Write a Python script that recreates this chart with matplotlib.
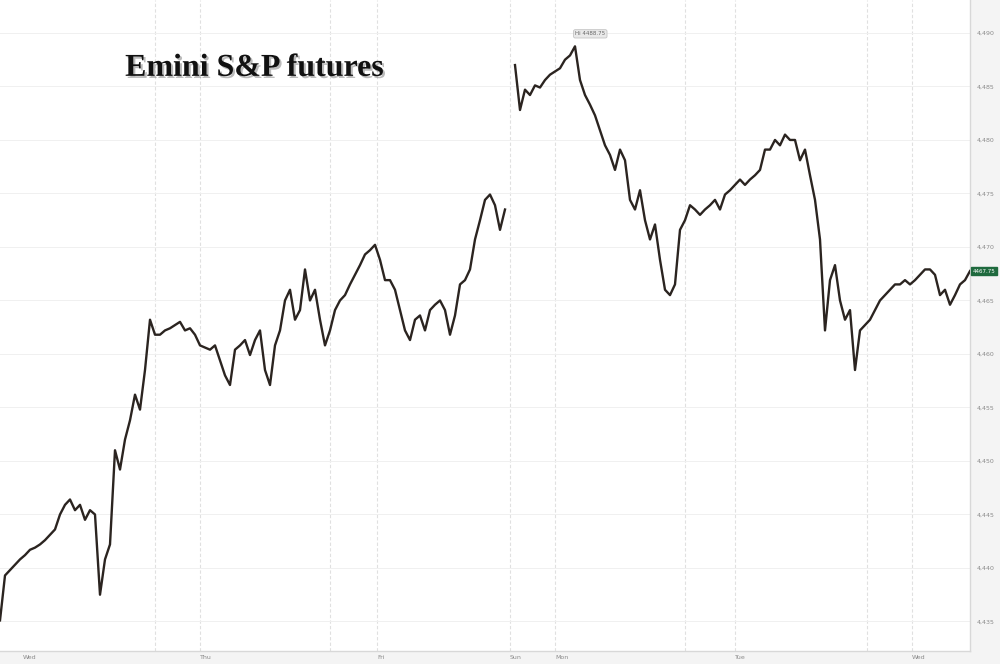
import matplotlib

matplotlib.use("Agg")
import matplotlib.pyplot as plt
import matplotlib.patheffects as pe
import numpy as np

# Emini S&P futures, one value per ~40 min bar (NaN = weekend break)
prices = [
    4435.1, 4439.3, 4439.8, 4440.3, 4440.8, 4441.2, 4441.7, 4441.9, 4442.2, 4442.6,
    4443.1, 4443.6, 4445.0, 4445.9, 4446.4, 4445.4, 4445.9, 4444.5, 4445.4, 4445.0,
    4437.5, 4440.8, 4442.2, 4451.0, 4449.2, 4452.0, 4453.8, 4456.2, 4454.8, 4458.5,
    4463.2, 4461.8, 4461.8, 4462.2, 4462.4, 4462.7, 4463.0, 4462.2, 4462.4, 4461.8,
    4460.8, 4460.6, 4460.4, 4460.8, 4459.4, 4458.0, 4457.1, 4460.4, 4460.8, 4461.3,
    4459.9, 4461.3, 4462.2, 4458.5, 4457.1, 4460.8, 4462.2, 4465.0, 4466.0, 4463.2,
    4464.1, 4467.9, 4465.0, 4466.0, 4463.2, 4460.8, 4462.2, 4464.1, 4465.0, 4465.5,
    4466.5, 4467.4, 4468.3, 4469.3, 4469.7, 4470.2, 4468.8, 4466.9, 4466.9, 4466.0,
    4464.1, 4462.2, 4461.3, 4463.2, 4463.6, 4462.2, 4464.1, 4464.6, 4465.0, 4464.1,
    4461.8, 4463.6, 4466.5, 4466.9, 4467.9, 4470.7, 4472.5, 4474.4, 4474.9, 4473.9,
    4471.6, 4473.5, np.nan, 4487.0, 4482.8, 4484.7, 4484.2, 4485.1, 4484.9, 4485.6,
    4486.1, 4486.4, 4486.7, 4487.5, 4487.9, 4488.75, 4485.6, 4484.2, 4483.3, 4482.3,
    4480.9, 4479.5, 4478.6, 4477.2, 4479.1, 4478.1, 4474.4, 4473.5, 4475.3, 4472.5,
    4470.7, 4472.1, 4468.8, 4466.0, 4465.5, 4466.5, 4471.6, 4472.5, 4473.9, 4473.5,
    4473.0, 4473.5, 4473.9, 4474.4, 4473.5, 4474.9, 4475.3, 4475.8, 4476.3, 4475.8,
    4476.3, 4476.7, 4477.2, 4479.1, 4479.1, 4480.0, 4479.5, 4480.5, 4480.0, 4480.0,
    4478.1, 4479.1, 4476.7, 4474.4, 4470.7, 4462.2, 4466.9, 4468.3, 4465.0, 4463.2,
    4464.1, 4458.5, 4462.2, 4462.7, 4463.2, 4464.1, 4465.0, 4465.5, 4466.0, 4466.5,
    4466.5, 4466.9, 4466.5, 4466.9, 4467.4, 4467.9, 4467.9, 4467.4, 4465.5, 4466.0,
    4464.6, 4465.5, 4466.5, 4466.9, 4467.75,
]
day_labels = ["Wed", "Thu", "Fri", "Sun", "Mon", "Tue", "Wed"]
day_pos = [4.6, 40.0, 75.4, 102.0, 111.0, 147.0, 182.4]
session_pos = [31.0, 66.0, 137.0, 173.4]
y_ticks = [4490, 4485, 4480, 4475, 4470, 4465, 4460, 4455, 4450, 4445, 4440, 4435]
title = "Emini S&P futures"


def main() -> None:
    x = np.arange(len(prices))
    y = np.array(prices, dtype=float)

    fig = plt.figure(figsize=(10, 6.64), dpi=100, facecolor="#f4f4f4")
    ax = fig.add_axes([0.0, 13 / 664, 0.97, 651 / 664])
    ax.set_facecolor("white")

    for p in session_pos + day_pos[1:]:
        ax.axvline(p, color="#e0e0e0", linewidth=0.8, linestyle=(0, (3, 2)), zorder=0)
    for t in y_ticks:
        ax.axhline(t, color="#f0f0f0", linewidth=0.7, zorder=0)

    ax.plot(x, y, color="#2b2420", linewidth=1.7, zorder=3)

    ax.set_xlim(0, 194)
    ax.set_ylim(4432.24, 4493.08)

    ax.yaxis.tick_right()
    ax.set_yticks(y_ticks)
    ax.set_yticklabels([f"{t:,}" for t in y_ticks], fontsize=4.5, color="#8a8a8a")
    ax.tick_params(axis="y", length=0, pad=5)
    ax.set_xticks(day_pos)
    ax.set_xticklabels(day_labels, fontsize=4.5, color="#8a8a8a", ha="left")
    ax.tick_params(axis="x", length=0, pad=3)

    for side in ("top", "left"):
        ax.spines[side].set_visible(False)
    for side in ("right", "bottom"):
        ax.spines[side].set_color("#d8d8d8")
        ax.spines[side].set_linewidth(1.0)

    ax.text(
        0.129, 0.895, title, transform=ax.transAxes, fontsize=23, fontweight="bold",
        family="Liberation Serif", color="#111111", va="center", ha="left",
        path_effects=[pe.withSimplePatchShadow(offset=(1.5, -1.5), shadow_rgbFace="#777777", alpha=0.5)],
    )

    peak = int(np.nanargmax(y))
    ax.annotate(
        f"Hi {y[peak]:.2f}", xy=(x[peak], y[peak]), xytext=(11, 9), textcoords="offset points",
        fontsize=4, color="#666666", ha="center", va="center",
        bbox=dict(boxstyle="round,pad=0.3", facecolor="#e9e9e9", edgecolor="#c4c4c4", linewidth=0.6),
    )

    last = y[-1]
    ax.annotate(
        f"{last:.2f}", xy=(1.0, last), xycoords=("axes fraction", "data"), xytext=(2, 0),
        textcoords="offset points", fontsize=4, color="white", ha="left", va="center",
        annotation_clip=False,
        bbox=dict(boxstyle="square,pad=0.3", facecolor="#1f6a3e", edgecolor="#1f6a3e"),
    )

    fig.savefig("out.png", dpi=100, facecolor=fig.get_facecolor())


if __name__ == "__main__":
    main()
